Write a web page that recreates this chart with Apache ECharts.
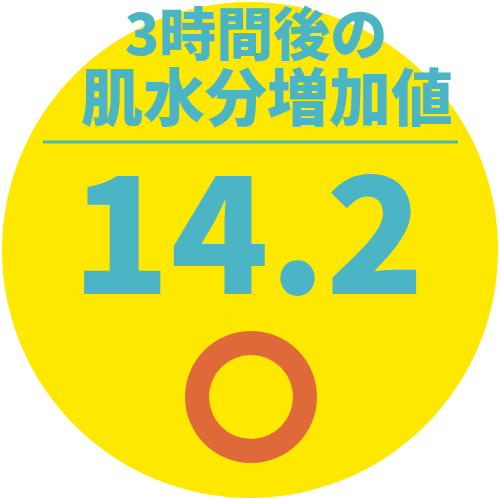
<!DOCTYPE html>
<html>
<head>
<meta charset="utf-8">
<script src="https://cdn.jsdelivr.net/npm/echarts@6/dist/echarts.min.js"></script>
<style>
  html, body { margin: 0; padding: 0; background: #fff; }
  #chart-container { width: 500px; height: 499px; }
</style>
</head>
<body>
<div id="chart-container"></div>
<script>
var titleLines = ["3時間後の", "肌水分増加値"];
var valueText = ["14.2"];
var backgroundShare = [1];
var resultMark = [1];

var dom = document.getElementById("chart-container");
var myChart = echarts.init(dom, null, { renderer: "canvas" });

var teal = "#4bb4c5";
var font = '"Noto Sans CJK JP", sans-serif';

var option = {
  animation: false,
  series: [
    {
      type: "pie",
      silent: true,
      z: 1,
      center: [250, 250],
      radius: [0, 248],
      label: { show: false },
      itemStyle: { color: "#ffe800" },
      data: backgroundShare.map(function (v) { return { value: v }; })
    },
    {
      type: "pie",
      silent: true,
      z: 2,
      center: [251, 397],
      radius: [42, 66],
      label: { show: false },
      itemStyle: { color: "#e0693a" },
      data: resultMark.map(function (v) { return { value: v }; })
    }
  ],
  graphic: [
    {
      type: "text",
      z: 100,
      x: 256,
      y: 5,
      style: {
        text: titleLines[0],
        fill: teal,
        font: "900 57px " + font,
        textAlign: "center",
        textVerticalAlign: "top"
      }
    },
    {
      type: "text",
      z: 100,
      x: 267,
      y: 66,
      style: {
        text: titleLines[1],
        fill: teal,
        font: "900 62px " + font,
        textAlign: "center",
        textVerticalAlign: "top"
      }
    },
    {
      type: "line",
      z: 100,
      shape: { x1: 43, y1: 142, x2: 458, y2: 142 },
      style: { stroke: "#4eb5b5", lineWidth: 3 }
    },
    {
      type: "text",
      z: 100,
      x: 248,
      y: 151,
      style: {
        text: valueText[0],
        fill: teal,
        font: "900 162px " + font,
        textAlign: "center",
        textVerticalAlign: "top"
      }
    }
  ]
};

myChart.setOption(option);
window.addEventListener("resize", myChart.resize);
</script>
</body>
</html>
